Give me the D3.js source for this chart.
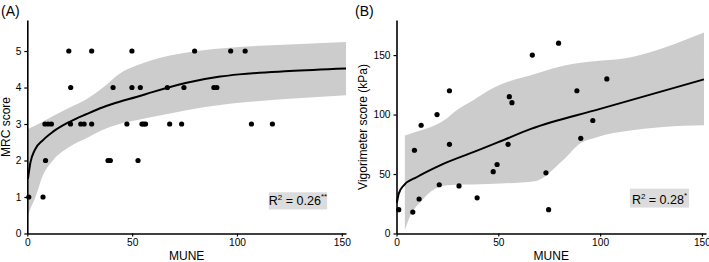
<!DOCTYPE html>
<html>
<head>
<meta charset="utf-8">
<script src="https://cdn.jsdelivr.net/npm/d3@7"></script>
<style>
  body { margin: 0; background: #fff; }
  svg { display: block; font-family: "Liberation Sans", Arial, sans-serif; }
</style>
</head>
<body>
<svg id="chart" width="709" height="262"></svg>
<script>
// panel A: MUNE vs MRC score
const muneA = [19.8, 30.7, 49.9, 79.8, 97, 103.9,
  20.7, 40.9, 49.9, 53.9, 66.8, 74.7, 89, 90.4,
  8.4, 9.9, 11.5, 20.6, 25.5, 27.1, 30.7, 47.5, 54.7, 55.5, 56.4, 67.9, 73.6, 106.9, 116.9,
  8.7, 38.5, 39.6, 52.8,
  0.7, 7.5];
const mrcScore = [5, 5, 5, 5, 5, 5,
  4, 4, 4, 4, 4, 4, 4, 4,
  3, 3, 3, 3, 3, 3, 3, 3, 3, 3, 3, 3, 3, 3, 3,
  2, 2, 2, 2,
  1, 1];
const fitAx = [0.3, 1.5, 3.6, 7.5, 12.3, 20.2, 28.2, 36.1, 44, 52, 60, 76, 92, 101, 125, 152];
const fitAy = [1.5, 1.95, 2.29, 2.56, 2.79, 3.06, 3.27, 3.46, 3.61, 3.74, 3.88, 4.13, 4.30, 4.36, 4.45, 4.52];
const bandAhi = [2.86, 2.9, 2.95, 3.07, 3.22, 3.45, 3.68, 4.0, 4.38, 4.6, 4.76, 4.96, 5.07, 5.11, 5.18, 5.25];
const bandAlo = [0.5, 0.68, 0.95, 1.6, 2.01, 2.38, 2.61, 2.84, 3.0, 3.1, 3.2, 3.38, 3.52, 3.58, 3.69, 3.79];

// panel B: MUNE vs Vigorimeter score
const muneB = [1.1, 8, 8.8, 11.1, 12.1, 19.9, 21, 26, 26, 30.7, 39.6, 47.5, 49.4, 54.8,
  55.4, 56.7, 66.7, 73.4, 74.7, 79.6, 88.6, 90.5, 96.4, 103.3];
const vigScore = [20, 18, 70, 29, 91, 100, 41, 120, 75, 40, 30, 52, 58, 75,
  115, 110, 150, 51, 20, 160, 120, 80, 95, 130];
const fitBx = [0.2, 1.1, 3.6, 10.1, 21.4, 37.7, 50, 66, 100, 151];
const fitBy = [26, 33.5, 40.5, 47.5, 57.3, 68.4, 76.8, 88, 104.8, 129.6];
const bandBx = [4.1, 6, 12.6, 18.3, 24.8, 29, 37.7, 45, 50.9, 68, 82, 90.5, 98.4, 114.7, 131, 151];
const bandBhi = [82.4, 83.5, 87, 90.5, 97, 103, 112, 120, 125, 134, 141, 143.5, 145, 148, 156, 169];
const bandBlo = [2.8, 12, 28, 37, 40.5, 41, 41.2, 41.6, 42, 44, 62, 76, 81, 86.5, 89.5, 91];

const xTicks = [0, 50, 100, 150];
const yTicksA = [0, 1, 2, 3, 4, 5];
const yTicksB = [0, 50, 100, 150];

const svg = d3.select('#chart');

function panel(opt) {
  const x = d3.scaleLinear().domain([0, 152]).range([opt.left, opt.right]);
  const y = d3.scaleLinear().domain(opt.yDomain).range([233.5, 20]);
  const g = svg.append('g');

  const band = opt.bandX.map((d, i) => ({ x: d, lo: opt.bandLo[i], hi: opt.bandHi[i] }));
  g.append('path')
    .datum(band)
    .attr('fill', '#cccccc')
    .attr('d', d3.area()
      .x((d) => x(d.x))
      .y0((d) => y(d.lo))
      .y1((d) => y(d.hi))
      .curve(d3.curveMonotoneX));

  g.selectAll('circle')
    .data(opt.px.map((d, i) => [d, opt.py[i]]))
    .join('circle')
    .attr('cx', (d) => x(d[0]))
    .attr('cy', (d) => y(d[1]))
    .attr('r', 2.6)
    .attr('fill', '#000');

  g.append('path')
    .datum(opt.fitX.map((d, i) => [d, opt.fitY[i]]))
    .attr('fill', 'none')
    .attr('stroke', '#000')
    .attr('stroke-width', 2)
    .attr('d', d3.line()
      .x((d) => x(d[0]))
      .y((d) => y(d[1]))
      .curve(d3.curveMonotoneX));

  const xAxis = g.append('g')
    .attr('transform', 'translate(0,233.5)')
    .call(d3.axisBottom(x).tickValues(xTicks).tickFormat(d3.format('d'))
      .tickSize(3).tickSizeOuter(0).tickPadding(2));
  const yAxis = g.append('g')
    .attr('transform', `translate(${opt.left},0)`)
    .call(d3.axisLeft(y).tickValues(opt.yTicks).tickFormat(d3.format('d'))
      .tickSize(3).tickSizeOuter(0).tickPadding(3));
  [xAxis, yAxis].forEach((a) => {
    a.select('.domain').attr('stroke-width', 1.6);
    a.selectAll('.tick line').attr('stroke-width', 1.2);
    a.selectAll('.tick text')
      .attr('font-family', '"Liberation Sans", Arial, sans-serif')
      .attr('font-size', 10.2)
      .attr('fill', '#000');
  });

  g.append('text')
    .attr('x', (opt.left + opt.right) / 2)
    .attr('y', 260)
    .attr('text-anchor', 'middle')
    .attr('font-size', 12)
    .text('MUNE');

  g.append('text')
    .attr('transform', `translate(${opt.yLabelX},127) rotate(-90)`)
    .attr('text-anchor', 'middle')
    .attr('font-size', 12)
    .text(opt.yLabel);

  g.append('text')
    .attr('x', opt.tagX)
    .attr('y', 16)
    .attr('font-size', 14)
    .text(opt.tag);

  // R² annotation box
  const bx0 = x(opt.box[0]);
  const bx1 = x(opt.box[1]);
  const by0 = y(opt.box[2]);
  const by1 = y(opt.box[3]);
  g.append('rect')
    .attr('x', bx0)
    .attr('y', by0)
    .attr('width', bx1 - bx0)
    .attr('height', by1 - by0)
    .attr('fill', '#dcdcdc');
  const t = g.append('text')
    .attr('x', (bx0 + bx1) / 2)
    .attr('y', by1 - 4)
    .attr('text-anchor', 'middle')
    .attr('font-size', 12.5);
  t.append('tspan').text('R');
  t.append('tspan').attr('dy', -5).attr('font-size', 8).text('2');
  t.append('tspan').attr('dy', 5).text(' = ' + opt.r2);
  t.append('tspan').attr('dy', -6).attr('font-size', 8).text(opt.stars);
}

panel({
  left: 27.3, right: 346, yDomain: [0, 5.85], yTicks: yTicksA,
  px: muneA, py: mrcScore, fitX: fitAx, fitY: fitAy,
  bandX: fitAx, bandLo: bandAlo, bandHi: bandAhi,
  yLabel: 'MRC score', yLabelX: 9.5, tag: '(A)', tagX: 1,
  box: [115.2, 143, 1.13, 0.66], r2: '0.26', stars: '**',
});

panel({
  left: 396.5, right: 706, yDomain: [0, 179.5], yTicks: yTicksB,
  px: muneB, py: vigScore, fitX: fitBx, fitY: fitBy,
  bandX: bandBx, bandLo: bandBlo, bandHi: bandBhi,
  yLabel: 'Vigorimeter score (kPa)', yLabelX: 367, tag: '(B)', tagX: 355,
  box: [114.6, 143.7, 37.7, 21.8], r2: '0.28', stars: '*',
});
</script>
</body>
</html>
